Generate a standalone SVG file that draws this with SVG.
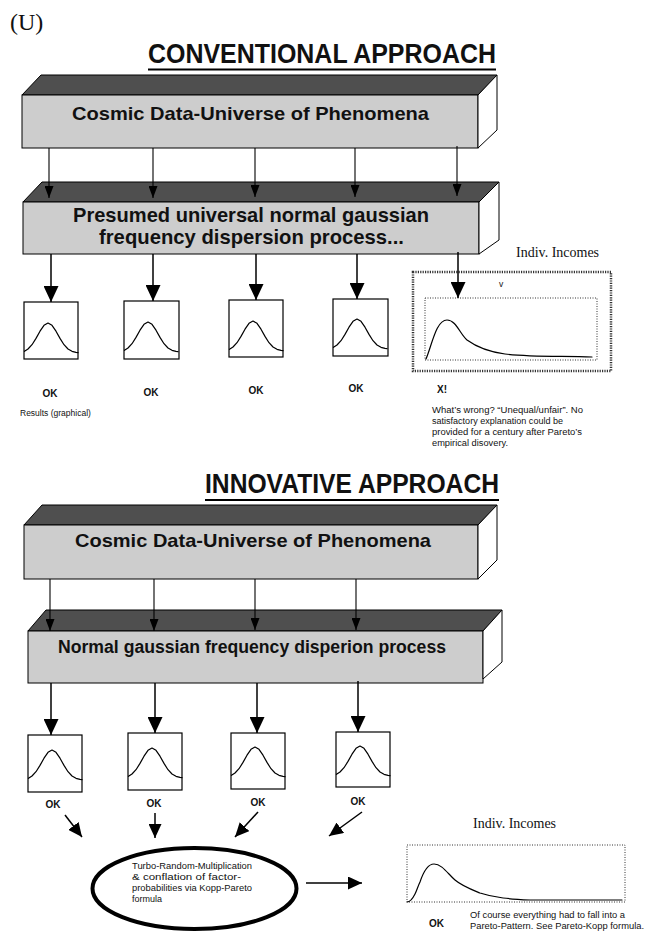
<svg xmlns="http://www.w3.org/2000/svg" xmlns:xlink="http://www.w3.org/1999/xlink" width="651" height="932" viewBox="0 0 651 932">
<style>
  .top{fill:#4f4f4f;stroke:#000;stroke-width:1}
  .front{fill:#cdcdcd;stroke:#000;stroke-width:1}
  .side{fill:#fff;stroke:#000;stroke-width:1}
  .boxt{font-family:"Liberation Sans",Arial,sans-serif;font-weight:bold;fill:#111}
  .title{font-family:"Liberation Sans",Arial,sans-serif;font-weight:bold;font-size:27px;fill:#111}
  .ok{font-family:"Liberation Sans",Arial,sans-serif;font-weight:bold;font-size:10px;fill:#111}
  .small{font-family:"Liberation Sans",Arial,sans-serif;font-size:8.5px;fill:#111}
  .serif{font-family:"Liberation Serif","Times New Roman",serif;fill:#111}
  .res{fill:#fff;stroke:#000;stroke-width:1.2}
  .curve{fill:none;stroke:#000;stroke-width:1.2;stroke-linejoin:round;stroke-linecap:round}
  .thin{stroke:#000;stroke-width:1.1;fill:none}
  .thick{stroke:#000;stroke-width:1.5;fill:none}
  .dotOuter{fill:none;stroke:#333;stroke-width:2.5;stroke-dasharray:1.2 1.2}
  .dotInner{fill:none;stroke:#333;stroke-width:1;stroke-dasharray:1 1.5}
</style>
<defs>
  <marker id="ahS" markerUnits="userSpaceOnUse" viewBox="0 0 12 9" markerWidth="12" markerHeight="9" refX="12" refY="4.5" orient="auto"><path d="M0,0 L12,4.5 L0,9 z" fill="#000"/></marker>
  <marker id="ahL" markerUnits="userSpaceOnUse" viewBox="0 0 16 15" markerWidth="16" markerHeight="15" refX="16" refY="7.5" orient="auto"><path d="M0,0 L16,7.5 L0,15 z" fill="#000"/></marker>
  <marker id="ahM" markerUnits="userSpaceOnUse" viewBox="0 0 14 13" markerWidth="14" markerHeight="13" refX="14" refY="6.5" orient="auto"><path d="M0,0 L14,6.5 L0,13 z" fill="#000"/></marker>
  <polyline id="bell" class="curve" points="0.5,49.3 4,47 8,42.7 12,36.4 16,29.2 20,23.3 24,21 28,23.3 32,29.2 36,36.4 40,42.7 44,47 48,49.3 52,50.4 54,50.7"/>
</defs>

<!-- header -->
<text x="10" y="30" class="serif" font-size="24">(U)</text>

<g id="title-conventional">
  <text x="148" y="63" class="title" textLength="348" lengthAdjust="spacingAndGlyphs">CONVENTIONAL APPROACH</text>
  <line x1="148" y1="69.5" x2="496" y2="69.5" stroke="#000" stroke-width="2"/>
</g>

<!-- Conventional: box 1 -->
<g id="conv-universe">
  <polygon class="top" points="22,95 41,75 497,75 478,95"/>
  <rect class="front" x="22" y="95" width="456" height="53"/>
  <polygon class="side" points="478,95 497,75 497,130 478,148"/>
  <text x="72" y="120" class="boxt" font-size="19" textLength="357" lengthAdjust="spacingAndGlyphs">Cosmic Data-Universe of Phenomena</text>
</g>

<!-- Conventional: box 2 -->
<g id="conv-process">
  <polygon class="top" points="23,202 42,182 499,182 479,202"/>
  <rect class="front" x="23" y="202" width="456" height="52"/>
  <polygon class="side" points="479,202 499,182 499,240 479,254"/>
  <text x="73" y="222" class="boxt" font-size="21" textLength="356" lengthAdjust="spacingAndGlyphs">Presumed universal normal gaussian</text>
  <text x="99" y="244" class="boxt" font-size="21" textLength="305" lengthAdjust="spacingAndGlyphs">frequency dispersion process...</text>
</g>

<!-- Conventional result boxes -->
<g id="conv-r1"><rect class="res" x="24" y="302" width="54" height="57"/><use xlink:href="#bell" href="#bell" x="24" y="302"/><text x="50" y="397" class="ok" text-anchor="middle">OK</text></g>
<g id="conv-r2"><rect class="res" x="124" y="301" width="55" height="58"/><use xlink:href="#bell" href="#bell" x="124" y="301"/><text x="151" y="396" class="ok" text-anchor="middle">OK</text></g>
<g id="conv-r3"><rect class="res" x="229" y="300" width="54" height="57"/><use xlink:href="#bell" href="#bell" x="229" y="300"/><text x="256" y="394" class="ok" text-anchor="middle">OK</text></g>
<g id="conv-r4"><rect class="res" x="333" y="299" width="55" height="57"/><use xlink:href="#bell" href="#bell" x="333" y="298"/><text x="356" y="392" class="ok" text-anchor="middle">OK</text></g>
<g id="conv-r5">
  <text x="516" y="257" class="serif" font-size="14">Indiv. Incomes</text>
  <rect class="dotOuter" x="413" y="272" width="198" height="99"/>
  <rect class="dotInner" x="425" y="298" width="172" height="62"/>
  <text x="499" y="287" class="small" font-size="6">v</text>
  <path class="curve" d="M426,359 C432,345 436,320 447,320 C456,320 460,334 467,340 C478,348 490,352 505,354 C530,357 560,356 592,357"/>
  <text x="437" y="393" class="ok">X!</text>
</g>

<text x="20" y="416" class="small" font-size="8">Results (graphical)</text>

<g id="conv-note">
  <text x="432" y="413" class="small" textLength="151" lengthAdjust="spacingAndGlyphs">What’s wrong? “Unequal/unfair”. No</text>
  <text x="432" y="424" class="small" textLength="131" lengthAdjust="spacingAndGlyphs">satisfactory explanation could be</text>
  <text x="432" y="435" class="small" textLength="150" lengthAdjust="spacingAndGlyphs">provided for a century after Pareto’s</text>
  <text x="432" y="446" class="small" textLength="76" lengthAdjust="spacingAndGlyphs">empirical disovery.</text>
</g>

<!-- Innovative -->
<g id="title-innovative">
  <text x="205" y="493" class="title" textLength="294" lengthAdjust="spacingAndGlyphs">INNOVATIVE APPROACH</text>
  <line x1="205" y1="500" x2="499" y2="500" stroke="#000" stroke-width="2"/>
</g>

<g id="inno-universe">
  <polygon class="top" points="24,525 42,505 497,505 478,525"/>
  <rect class="front" x="24" y="525" width="454" height="54"/>
  <polygon class="side" points="478,525 497,505 497,560 478,579"/>
  <text x="75" y="547" class="boxt" font-size="19" textLength="356" lengthAdjust="spacingAndGlyphs">Cosmic Data-Universe of Phenomena</text>
</g>

<g id="inno-process">
  <polygon class="top" points="28,631 46,610 502,610 483,631"/>
  <rect class="front" x="28" y="631" width="455" height="52"/>
  <polygon class="side" points="483,631 502,610 502,662 483,679"/>
  <text x="58" y="653" class="boxt" font-size="18" textLength="388" lengthAdjust="spacingAndGlyphs">Normal gaussian frequency disperion process</text>
</g>

<g id="inno-r1"><rect class="res" x="28" y="735" width="54" height="57"/><use xlink:href="#bell" href="#bell" x="28" y="729"/><text x="53" y="808" class="ok" text-anchor="middle">OK</text></g>
<g id="inno-r2"><rect class="res" x="128" y="733" width="54" height="57"/><use xlink:href="#bell" href="#bell" x="128" y="727"/><text x="154" y="807" class="ok" text-anchor="middle">OK</text></g>
<g id="inno-r3"><rect class="res" x="231" y="733" width="54" height="56"/><use xlink:href="#bell" href="#bell" x="231" y="726"/><text x="258" y="806" class="ok" text-anchor="middle">OK</text></g>
<g id="inno-r4"><rect class="res" x="336" y="732" width="54" height="55"/><use xlink:href="#bell" href="#bell" x="336" y="725"/><text x="358" y="805" class="ok" text-anchor="middle">OK</text></g>

<g id="kopp">
  <ellipse cx="194.5" cy="888.5" rx="102" ry="40.5" fill="#fff" stroke="#000" stroke-width="4"/>
  <text x="132" y="869" class="small" font-size="9.5" textLength="120" lengthAdjust="spacingAndGlyphs">Turbo-Random-Multiplication</text>
  <text x="132" y="880" class="small" font-size="9.5" textLength="109" lengthAdjust="spacingAndGlyphs">&amp; conflation of factor-</text>
  <text x="132" y="891" class="small" font-size="9.5" textLength="120" lengthAdjust="spacingAndGlyphs">probabilities via Kopp-Pareto</text>
  <text x="132" y="902" class="small" font-size="9.5" textLength="30" lengthAdjust="spacingAndGlyphs">formula</text>
</g>

<g id="inno-result">
  <text x="473" y="828" class="serif" font-size="14">Indiv. Incomes</text>
  <rect class="dotInner" x="407" y="845" width="218" height="57"/>
  <path class="curve" d="M407,902 C410,902 413,898 415,894 C417,890 418,886 420,882 C424,870 428,864 434,864 C442,864 448,874 455,880 C462,886 470,889 480,893 C495,898 510,899 530,900 L622,900"/>
  <text x="429" y="927" class="ok">OK</text>
  <text x="470" y="918" class="small" font-size="9" textLength="155" lengthAdjust="spacingAndGlyphs">Of course everything had to fall into a</text>
  <text x="470" y="929" class="small" font-size="9" textLength="174" lengthAdjust="spacingAndGlyphs">Pareto-Pattern. See Pareto-Kopp formula.</text>
</g>

<!-- connectors -->
<g id="connectors">
  <line class="thin" x1="49" y1="148" x2="49" y2="198" marker-end="url(#ahS)"/>
  <line class="thin" x1="153" y1="148" x2="153" y2="198" marker-end="url(#ahS)"/>
  <line class="thin" x1="255" y1="148" x2="255" y2="197" marker-end="url(#ahS)"/>
  <line class="thin" x1="355" y1="148" x2="355" y2="197" marker-end="url(#ahS)"/>
  <line class="thin" x1="457" y1="146" x2="457" y2="196" marker-end="url(#ahS)"/>

  <line class="thick" x1="51" y1="254" x2="51" y2="302" marker-end="url(#ahL)"/>
  <line class="thick" x1="153" y1="254" x2="153" y2="301" marker-end="url(#ahL)"/>
  <line class="thick" x1="256" y1="254" x2="256" y2="300" marker-end="url(#ahL)"/>
  <line class="thick" x1="357" y1="254" x2="357" y2="299" marker-end="url(#ahL)"/>
  <line class="thick" x1="458" y1="252" x2="458" y2="298" marker-end="url(#ahL)"/>

  <line class="thin" x1="50" y1="579" x2="50" y2="631" marker-end="url(#ahS)"/>
  <line class="thin" x1="154" y1="579" x2="154" y2="631" marker-end="url(#ahS)"/>
  <line class="thin" x1="255" y1="579" x2="255" y2="630" marker-end="url(#ahS)"/>
  <line class="thin" x1="356" y1="579" x2="356" y2="630" marker-end="url(#ahS)"/>

  <line class="thick" x1="51" y1="683" x2="51" y2="735" marker-end="url(#ahL)"/>
  <line class="thick" x1="155" y1="683" x2="155" y2="733" marker-end="url(#ahL)"/>
  <line class="thick" x1="257" y1="683" x2="257" y2="733" marker-end="url(#ahL)"/>
  <line class="thick" x1="358" y1="681" x2="358" y2="732" marker-end="url(#ahL)"/>

  <line class="thick" x1="65" y1="815" x2="82" y2="837" marker-end="url(#ahM)"/>
  <line class="thick" x1="155" y1="813" x2="155" y2="838" marker-end="url(#ahM)"/>
  <line class="thick" x1="258" y1="812" x2="235" y2="837" marker-end="url(#ahM)"/>
  <line class="thick" x1="362" y1="812" x2="329" y2="836" marker-end="url(#ahM)"/>

  <line class="thick" x1="306" y1="883" x2="362" y2="883" marker-end="url(#ahM)"/>
</g>
</svg>
